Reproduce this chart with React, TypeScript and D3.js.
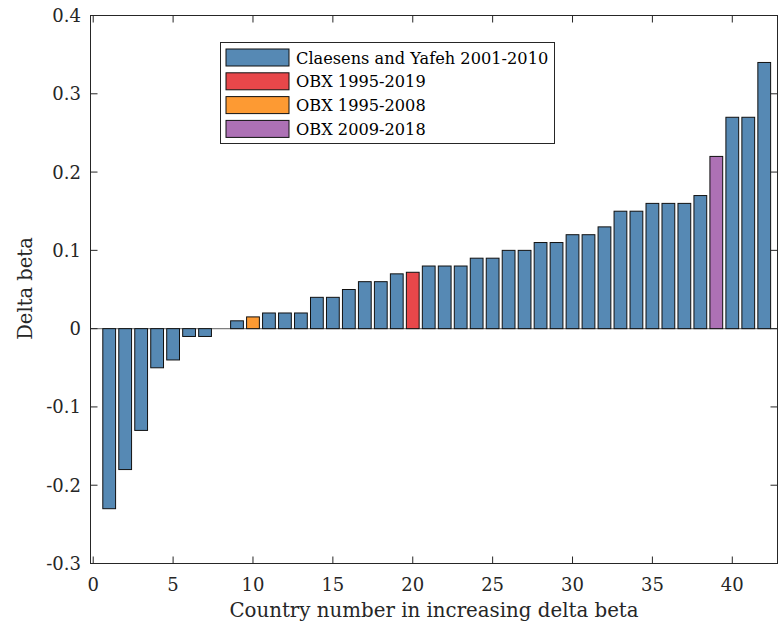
import React from "react";
import * as d3 from "d3";

const countryNumbers: number[] = Array.from({ length: 42 }, (_, i) => i + 1);
const deltaBeta: number[] = [
  -0.23, -0.18, -0.13, -0.05, -0.04, -0.01, -0.01, 0, 0.01, 0.015,
  0.02, 0.02, 0.02, 0.04, 0.04, 0.05, 0.06, 0.06, 0.07, 0.072,
  0.08, 0.08, 0.08, 0.09, 0.09, 0.1, 0.1, 0.11, 0.11, 0.12,
  0.12, 0.13, 0.15, 0.15, 0.16, 0.16, 0.16, 0.17, 0.22, 0.27,
  0.27, 0.34,
];
// series index for each bar
const barSeries: number[] = countryNumbers.map((n) =>
  n === 20 ? 1 : n === 10 ? 2 : n === 39 ? 3 : 0
);
const seriesNames: string[] = [
  "Claesens and Yafeh 2001-2010",
  "OBX 1995-2019",
  "OBX 1995-2008",
  "OBX 2009-2018",
];
const seriesColors: string[] = ["#5689b4", "#e8474a", "#fd9a33", "#ad71b5"];
const xTicks: number[] = [0, 5, 10, 15, 20, 25, 30, 35, 40];
const yTicks: number[] = [-0.3, -0.2, -0.1, 0, 0.1, 0.2, 0.3, 0.4];
const yTickLabels: string[] = ["-0.3", "-0.2", "-0.1", "0", "0.1", "0.2", "0.3", "0.4"];
const xLabel = "Country number in increasing delta beta";
const yLabel = "Delta beta";

const W = 778;
const H = 625;
const FONT = "'DejaVu Serif', serif";

export default function App() {
  const left = 90.5;
  const right = 777.5;
  const top = 15.5;
  const bottom = 563.5;
  const x = d3.scaleLinear().domain([-0.17, 42.83]).range([left, right]);
  const y = d3.scaleLinear().domain([-0.3, 0.4]).range([bottom, top]);
  const bw = x(0.8) - x(0);
  const axisColor = "#262626";
  const tickLen = 7;

  return (
    <div style={{ position: "fixed", left: 0, top: 0, width: W, height: H, background: "#fff" }}>
      <svg width={W} height={H} style={{ display: "block" }} fontFamily={FONT}>
        <rect x={0} y={0} width={W} height={H} fill="#fff" />
        {/* baseline */}
        <line x1={left} x2={right} y1={y(0)} y2={y(0)} stroke="#7f7f7f" strokeWidth={1.2} />
        {/* bars */}
        {countryNumbers.map((n, i) => {
          const v = deltaBeta[i];
          if (v === 0) return null;
          const y0 = y(Math.max(0, v));
          const y1 = y(Math.min(0, v));
          return (
            <rect
              key={n}
              x={x(n) - bw / 2}
              y={y0}
              width={bw}
              height={y1 - y0}
              fill={seriesColors[barSeries[i]]}
              stroke="#111"
              strokeWidth={1}
            />
          );
        })}
        {/* axes box */}
        <rect x={left} y={top} width={right - left} height={bottom - top} fill="none" stroke={axisColor} strokeWidth={1} />
        {/* x ticks */}
        {xTicks.map((t) => (
          <g key={"xt" + t}>
            <line x1={x(t)} x2={x(t)} y1={bottom} y2={bottom - tickLen} stroke={axisColor} />
            <line x1={x(t)} x2={x(t)} y1={top} y2={top + tickLen} stroke={axisColor} />
            <text x={x(t)} y={591} textAnchor="middle" fontSize={18} fill="#262626">
              {t}
            </text>
          </g>
        ))}
        {/* y ticks */}
        {yTicks.map((t, i) => (
          <g key={"yt" + t}>
            <line x1={left} x2={left + tickLen} y1={y(t)} y2={y(t)} stroke={axisColor} />
            <line x1={right} x2={right - tickLen} y1={y(t)} y2={y(t)} stroke={axisColor} />
            <text x={81} y={y(t)} dy="0.36em" textAnchor="end" fontSize={18} fill="#262626">
              {yTickLabels[i]}
            </text>
          </g>
        ))}
        {/* axis labels */}
        <text x={434} y={617} textAnchor="middle" fontSize={19.8} fill="#262626">
          {xLabel}
        </text>
        <text
          transform={`translate(32, ${(top + bottom) / 2 - 1}) rotate(-90)`}
          textAnchor="middle"
          fontSize={19.5}
          fill="#262626"
        >
          {yLabel}
        </text>
        {/* legend */}
        <g>
          <rect x={220.5} y={42.5} width={334} height={101} fill="#fff" stroke={axisColor} strokeWidth={1} />
          {seriesNames.map((name, i) => (
            <g key={name} transform={`translate(0, ${49 + i * 23.8})`}>
              <rect x={226} y={0} width={63} height={17} fill={seriesColors[i]} stroke="#111" strokeWidth={1} />
              <text x={296} y={14.5} fontSize={16.2} fill="#000">
                {name}
              </text>
            </g>
          ))}
        </g>
      </svg>
    </div>
  );
}
